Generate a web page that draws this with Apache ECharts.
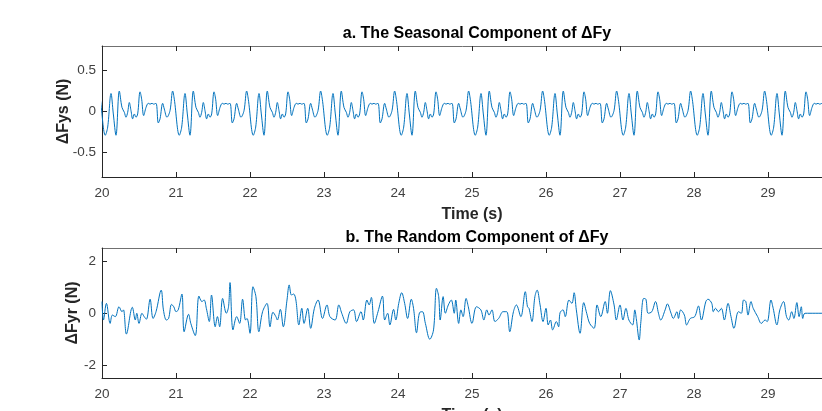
<!DOCTYPE html>
<html>
<head>
<meta charset="utf-8">
<title>Components of ΔFy</title>
<script src="https://cdn.jsdelivr.net/npm/echarts@6.0.0/dist/echarts.min.js"></script>
<style>
  html, body { margin: 0; padding: 0; background: #fff; }
  #chart { width: 822px; height: 411px; }
</style>
</head>
<body>
<div id="chart"></div>
<script>
// tick labels
const xTicks = [20, 21, 22, 23, 24, 25, 26, 27, 28, 29]
const ysTicks = [-0.5, 0, 0.5]
const yrTicks = [-2, 0, 2]

// seasonal component: one 1 s cycle (phase in s after each whole second)
const seasonPhase = [0.045, 0.077, 0.122, 0.153, 0.189, 0.234, 0.270, 0.302, 0.324, 0.347,
  0.369, 0.392, 0.414, 0.437, 0.459, 0.482, 0.514, 0.536, 0.563, 0.595,
  0.626, 0.649, 0.676, 0.698, 0.730, 0.761, 0.784, 0.820, 0.842, 0.878,
  0.919, 0.955, 0.977]
const seasonValue = [-0.29, -0.19, 0.22, -0.03, -0.29, 0.25, 0.05, -0.01, -0.07, -0.01,
  0.11, 0.01, -0.09, -0.03, -0.07, -0.03, 0.24, 0.15, -0.05, 0.05,
  0.10, 0.09, 0.10, 0.09, 0.10, -0.14, -0.09, 0.10, 0.03, -0.07,
  0.01, 0.25, 0.15]
const seasonStarts = [19, 20, 21, 22, 23, 24, 25, 26, 27, 28, 29]

// random component (turning points)
const randTime = [20.00, 20.02, 20.06, 20.11, 20.14, 20.18, 20.23, 20.27, 20.29, 20.33,
  20.41, 20.45, 20.47, 20.50, 20.54, 20.57, 20.60, 20.65, 20.69, 20.73,
  20.80, 20.83, 20.87, 20.90, 20.94, 20.97, 21.00, 21.03, 21.08, 21.11,
  21.17, 21.20, 21.26, 21.31, 21.35, 21.38, 21.41, 21.45, 21.48, 21.53,
  21.56, 21.59, 21.63, 21.68, 21.71, 21.73, 21.77, 21.82, 21.86, 21.90,
  21.94, 21.96, 22.00, 22.04, 22.08, 22.12, 22.17, 22.23, 22.27, 22.31,
  22.35, 22.37, 22.41, 22.45, 22.50, 22.53, 22.56, 22.59, 22.62, 22.66,
  22.70, 22.73, 22.78, 22.82, 22.87, 22.92, 22.98, 23.04, 23.08, 23.15,
  23.20, 23.24, 23.30, 23.35, 23.40, 23.44, 23.50, 23.53, 23.58, 23.61,
  23.64, 23.68, 23.73, 23.79, 23.82, 23.86, 23.89, 23.94, 23.97, 24.01,
  24.05, 24.09, 24.13, 24.18, 24.21, 24.25, 24.29, 24.33, 24.37, 24.43,
  24.48, 24.52, 24.55, 24.57, 24.61, 24.64, 24.68, 24.72, 24.76, 24.78,
  24.82, 24.85, 24.88, 24.92, 24.95, 25.00, 25.06, 25.12, 25.16, 25.20,
  25.23, 25.27, 25.31, 25.36, 25.42, 25.47, 25.51, 25.56, 25.60, 25.66,
  25.72, 25.75, 25.77, 25.81, 25.85, 25.88, 25.92, 25.96, 26.00, 26.03,
  26.06, 26.09, 26.14, 26.17, 26.19, 26.23, 26.26, 26.31, 26.35, 26.38,
  26.41, 26.46, 26.51, 26.55, 26.59, 26.65, 26.69, 26.74, 26.80, 26.83,
  26.87, 26.92, 26.95, 27.00, 27.04, 27.08, 27.12, 27.17, 27.20, 27.22,
  27.26, 27.28, 27.32, 27.35, 27.38, 27.43, 27.48, 27.52, 27.55, 27.61,
  27.64, 27.69, 27.72, 27.77, 27.79, 27.82, 27.87, 27.90, 27.95, 28.01,
  28.06, 28.10, 28.16, 28.19, 28.24, 28.26, 28.29, 28.33, 28.37, 28.41,
  28.46, 28.50, 28.54, 28.60, 28.64, 28.67, 28.70, 28.73, 28.77, 28.80,
  28.86, 28.91, 28.96, 28.99, 29.04, 29.07, 29.12, 29.16, 29.21, 29.25,
  29.28, 29.32, 29.35, 29.39, 29.42, 29.45, 29.47, 29.50, 30.00]
const randValue = [0.44, -0.27, 0.37, -0.40, -0.08, -0.14, 0.24, 0.05, 0.12, -0.81,
  0.22, -0.27, -0.01, -0.40, -0.01, -0.14, -0.24, 0.53, -0.21, 0.05,
  0.88, 0.12, -0.27, -0.21, 0.33, 0.24, 0.05, 0.12, 0.73, -0.72,
  -0.05, -0.40, -0.87, 0.65, 0.44, 0.50, 0.18, -0.33, 0.69, -0.53,
  -0.14, -0.53, 0.56, -0.01, 0.24, 1.17, -0.65, -0.14, -0.40, 0.53,
  -0.27, -0.21, -0.78, 1.01, 0.63, -0.72, 0.05, 0.37, -0.53, 0.03,
  -0.14, -0.27, 0.14, -0.53, 0.50, 1.08, 0.69, 0.73, 0.50, -0.46,
  0.18, -0.40, 0.18, -0.59, 0.18, 0.50, -0.21, 0.31, -0.14, -0.27,
  0.31, -0.01, -0.40, 0.05, 0.12, -0.33, 0.05, -0.27, 0.50, 0.31,
  0.60, -0.40, 0.05, 0.65, -0.27, -0.01, -0.46, 0.14, -0.27, 0.37,
  0.78, 0.37, -0.21, 0.53, 0.18, -0.76, 0.01, 0.05, -0.40, -1.01,
  -0.65, 0.95, 0.63, -0.27, 0.63, -0.01, 0.31, 0.50, -0.01, 0.50,
  -0.40, 0.12, -0.14, 0.56, 0.24, -0.40, 0.24, 0.12, -0.27, 0.12,
  -0.08, 0.12, -0.33, -0.21, 0.05, 0.05, -0.72, 0.05, 0.31, -0.14,
  0.82, 0.24, 0.18, -0.33, 0.63, 0.88, 0.31, -0.33, 0.18, -0.46,
  -0.27, -0.65, -0.33, -0.53, 0.01, 0.12, -0.14, 0.50, 0.37, 0.78,
  0.12, -0.78, 0.40, -0.01, -0.40, -0.59, 0.31, -0.14, 0.44, -0.01,
  0.86, 0.31, -0.27, 0.31, -0.27, 0.18, -0.27, -0.46, 0.12, -0.21,
  -1.04, -0.40, 0.56, 0.53, -0.01, 0.05, 0.44, -0.01, -0.27, 0.12,
  0.35, -0.01, -0.21, 0.05, -0.21, 0.12, -0.08, -0.46, -0.21, -0.14,
  0.27, -0.27, 0.44, 0.53, 0.37, 0.05, 0.18, 0.05, 0.18, -0.27,
  0.37, -0.14, -0.59, 0.05, -0.01, 0.50, 0.44, -0.08, 0.44, 0.18,
  -0.14, -0.40, -0.27, -0.33, 0.50, 0.18, -0.46, 0.12, 0.44, -0.14,
  -0.27, 0.05, -0.21, 0.40, -0.14, 0.24, -0.21, -0.01, -0.01]

const seasonalData = []
seasonStarts.forEach(s => {
  seasonPhase.forEach((p, i) => seasonalData.push([s + p, seasonValue[i]]))
})
const randomData = randTime.map((t, i) => [t, randValue[i]])

const FONT = 'Liberation Sans, Arial, Helvetica, sans-serif'
const AXIS = '#262626'
const LINE = '#0072BD'

const bottomAxis = (grid, name) => ({
  gridIndex: grid,
  type: 'value',
  min: 20,
  max: 30,
  position: 'bottom',
  name: name,
  nameLocation: 'middle',
  nameGap: 30,
  nameTextStyle: { fontFamily: FONT, fontSize: 16, fontWeight: 'bold', color: '#262626' },
  axisLine: { show: true, onZero: false, lineStyle: { color: AXIS, width: 1 } },
  axisTick: { show: true, inside: true, length: 5, customValues: xTicks, lineStyle: { color: AXIS } },
  axisLabel: { show: true, customValues: xTicks, margin: 9, fontFamily: FONT, fontSize: 13.5, color: '#404040' },
  splitLine: { show: false }
})

const topAxis = grid => ({
  gridIndex: grid,
  type: 'value',
  min: 20,
  max: 30,
  position: 'top',
  axisLine: { show: true, onZero: false, lineStyle: { color: '#707070', width: 1 } },
  axisTick: { show: true, inside: true, length: 5, customValues: xTicks, lineStyle: { color: AXIS } },
  axisLabel: { show: false },
  splitLine: { show: false }
})

const leftAxis = (grid, min, max, ticks, name, gap) => ({
  gridIndex: grid,
  type: 'value',
  min: min,
  max: max,
  name: name,
  nameLocation: 'middle',
  nameRotate: 90,
  nameGap: gap,
  nameMoveOverlap: false,
  nameTextStyle: { fontFamily: FONT, fontSize: 16, fontWeight: 'bold', color: '#262626' },
  axisLine: { show: true, onZero: false, lineStyle: { color: AXIS, width: 1 } },
  axisTick: { show: true, inside: true, length: 5, customValues: ticks, lineStyle: { color: AXIS } },
  axisLabel: { show: true, customValues: ticks, margin: 6, fontFamily: FONT, fontSize: 13.5, color: '#404040' },
  splitLine: { show: false }
})

const chart = echarts.init(document.getElementById('chart'), null, { renderer: 'canvas' })
chart.setOption({
  animation: false,
  backgroundColor: '#fff',
  title: [
    {
      text: 'a. The Seasonal Component of ΔFy',
      left: 472, top: 21, textAlign: 'center',
      textStyle: { fontFamily: FONT, fontSize: 16, fontWeight: 'bold', color: '#000' }
    },
    {
      text: 'b. The Random Component of ΔFy',
      left: 472, top: 225, textAlign: 'center',
      textStyle: { fontFamily: FONT, fontSize: 16, fontWeight: 'bold', color: '#000' }
    }
  ],
  grid: [
    { left: 102, top: 46, width: 740, height: 131, outerBoundsMode: 'none', containLabel: false },
    { left: 102, top: 248, width: 740, height: 130, outerBoundsMode: 'none', containLabel: false }
  ],
  xAxis: [
    bottomAxis(0, 'Time (s)'),
    topAxis(0),
    bottomAxis(1, 'Time (s)'),
    topAxis(1)
  ],
  yAxis: [
    leftAxis(0, -0.8, 0.8, ysTicks, 'ΔFys (N)', 30),
    leftAxis(1, -2.5, 2.5, yrTicks, 'ΔFyr (N)', 21)
  ],
  series: [
    {
      type: 'line',
      xAxisIndex: 0,
      yAxisIndex: 0,
      data: seasonalData,
      showSymbol: false,
      smooth: 0.35,
      clip: true,
      lineStyle: { color: LINE, width: 1 }
    },
    {
      type: 'line',
      xAxisIndex: 2,
      yAxisIndex: 1,
      data: randomData,
      showSymbol: false,
      smooth: 0.35,
      clip: true,
      lineStyle: { color: LINE, width: 1 }
    }
  ]
})
</script>
</body>
</html>
